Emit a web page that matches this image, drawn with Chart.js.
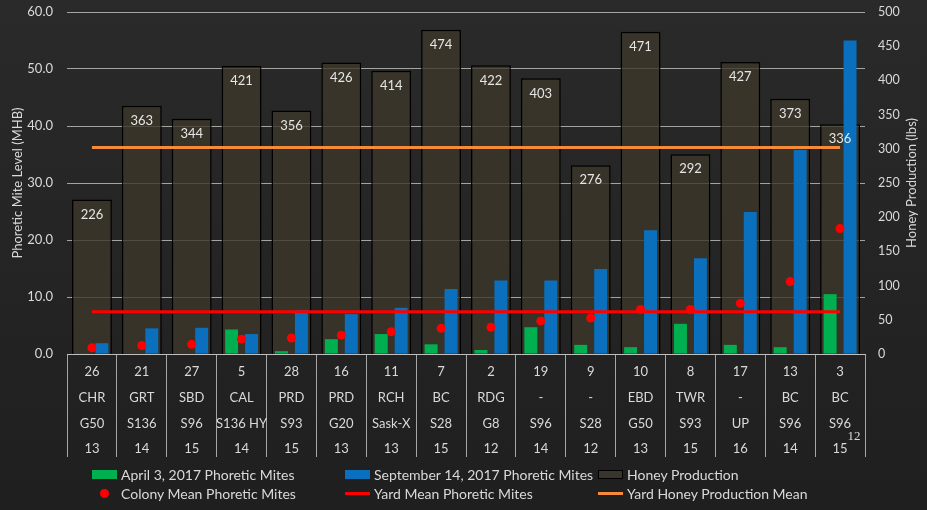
<!DOCTYPE html>
<html>
<head>
<meta charset="utf-8">
<script src="https://cdn.jsdelivr.net/npm/chart.js@4.4.1/dist/chart.umd.min.js"></script>
<style>
  html, body { margin: 0; padding: 0; }
  body {
    width: 927px; height: 510px; overflow: hidden;
    background: linear-gradient(#2a2a2a, #1f1f1f);
    font-family: Lato, sans-serif;
  }
  #wrap { position: relative; width: 927px; height: 510px; }
  #legend {
    position: absolute; left: 92px; top: 465px;
    display: grid; grid-template-columns: 253px 253px 253px;
    color: #d9d9d9; font-size: 14px;
  }
  .item { display: flex; align-items: center; height: 19px; white-space: nowrap; }
  .mark { width: 25px; height: 19px; margin-right: 4px; display: flex; align-items: center; justify-content: center; }
</style>
</head>
<body>
<div id="wrap">
  <canvas id="chart" width="927" height="510"></canvas>
  <div id="legend"></div>
</div>
<script>
const hiveIds = ['26','21','27','5','28','16','11','7','2','19','9','10','8','17','13','3'];
const yards   = ['CHR','GRT','SBD','CAL','PRD','PRD','RCH','BC','RDG','-','-','EBD','TWR','-','BC','BC'];
const queens  = ['G50','S136','S96','S136 HY','S93','G20','Sask-X','S28','G8','S96','S28','G50','S93','UP','S96','S96'];
const frames  = ['13','14','15','14','15','13','13','15','12','14','12','13','15','16','14','15'];

const aprilMites = [0.1, 0, 0, 4.3, 0.5, 2.6, 3.5, 1.7, 0.7, 4.7, 1.6, 1.2, 5.3, 1.6, 1.2, 10.5];
const septMites  = [1.9, 4.5, 4.6, 3.5, 7.7, 7.0, 8.1, 11.4, 12.9, 12.9, 14.9, 21.7, 16.8, 24.9, 35.8, 55.0];
const colonyMean = [1.1, 1.5, 1.7, 2.6, 2.8, 3.3, 3.9, 4.5, 4.7, 5.8, 6.3, 7.8, 7.8, 8.9, 12.7, 22.0];
const honey      = [226, 363, 344, 421, 356, 426, 414, 474, 422, 403, 276, 471, 292, 427, 373, 336];
const yardMiteMean  = [7.4, 7.4, 7.4, 7.4, 7.4, 7.4, 7.4, 7.4, 7.4, 7.4, 7.4, 7.4, 7.4, 7.4, 7.4, 7.4];
const yardHoneyMean = [302, 302, 302, 302, 302, 302, 302, 302, 302, 302, 302, 302, 302, 302, 302, 302];

const FONT = 'Lato, "Open Sans", sans-serif';
const TEXT = '#d9d9d9';
const GRID = 'rgba(205,205,200,0.75)';
const GREEN = '#00b050';
const BLUE = '#0a70bd';
const RED = '#ff0000';
const ORANGE = '#f38b3a';
const HONEY_FILL = 'rgba(60,55,42,0.8)';

function vText(ctx, text, x, y) {
  ctx.save();
  ctx.translate(x, y);
  ctx.rotate(-Math.PI / 2);
  ctx.fillText(text, 0, 0);
  ctx.restore();
}

const annotations = {
  id: 'annotations',
  afterDatasetsDraw(chart) {
    const { ctx, chartArea, scales } = chart;
    const meta = chart.getDatasetMeta(2);
    ctx.save();
    ctx.fillStyle = '#e6e6e6';
    ctx.font = '13px ' + FONT;
    ctx.textAlign = 'center';
    ctx.textBaseline = 'middle';
    meta.data.forEach((bar, i) => ctx.fillText(honey[i], bar.x, bar.y + 15));

    ctx.fillStyle = TEXT;
    const cy = (chartArea.top + chartArea.bottom) / 2;
    vText(ctx, 'Phoretic Mite Level (MHB)', scales.y.left + 18, cy);
    vText(ctx, 'Honey Production (lbs)', scales.y2.right - 15, cy);

    const lastX = scales.x.getPixelForValue(hiveIds.length - 1);
    ctx.font = '13px "Liberation Serif", serif';
    ctx.fillText('12', lastX + 14, scales.x.top + 83);
    ctx.restore();
  }
};

const chart = new Chart(document.getElementById('chart'), {
  type: 'bar',
  data: {
    labels: hiveIds.map((id, i) => [id, yards[i], queens[i], frames[i]]),
    datasets: [
      { label: 'April 3, 2017 Phoretic Mites', data: aprilMites, backgroundColor: GREEN,
        categoryPercentage: 0.8, barPercentage: 0.65, order: 3 },
      { label: 'September 14, 2017 Phoretic Mites', data: septMites, backgroundColor: BLUE,
        categoryPercentage: 0.8, barPercentage: 0.65, order: 3 },
      { label: 'Honey Production', data: honey, yAxisID: 'y2', grouped: false,
        backgroundColor: HONEY_FILL, borderColor: '#000', borderWidth: 1.5,
        categoryPercentage: 1, barPercentage: 0.8, order: 4 },
      { type: 'line', label: 'Colony Mean Phoretic Mites', data: colonyMean, showLine: false,
        pointRadius: 4.5, pointBackgroundColor: RED, pointBorderWidth: 0, backgroundColor: RED, order: 1 },
      { type: 'line', label: 'Yard Mean Phoretic Mites', data: yardMiteMean,
        borderColor: RED, borderWidth: 3, pointRadius: 0, order: 2 },
      { type: 'line', label: 'Yard Honey Production Mean', data: yardHoneyMean, yAxisID: 'y2',
        borderColor: ORANGE, borderWidth: 3, pointRadius: 0, order: 2 },
    ]
  },
  options: {
    responsive: false,
    animation: false,
    layout: { padding: { top: 12, bottom: 53, left: 0, right: 0 } },
    plugins: { legend: { display: false }, tooltip: { enabled: false } },
    scales: {
      x: {
        offset: true,
        grid: { offset: true, drawOnChartArea: false, tickLength: 103, color: '#a6a6a6' },
        border: { display: true, color: '#bfbfbf' },
        ticks: { color: TEXT, font: { family: FONT, size: 13, lineHeight: 1.98 },
                 padding: -98, maxRotation: 0, autoSkip: false },
        afterFit: s => { s.height = 103; }
      },
      y: {
        position: 'left', min: 0, max: 60,
        ticks: { stepSize: 10, padding: 2, color: TEXT, font: { family: FONT, size: 13 },
                 callback: v => v.toFixed(1) },
        grid: { color: GRID, drawTicks: true, tickLength: 12, tickColor: 'transparent' },
        border: { display: false },
        afterFit: s => { s.width = 67; }
      },
      y2: {
        position: 'right', min: 0, max: 500,
        ticks: { stepSize: 50, padding: 2, color: TEXT, font: { family: FONT, size: 12.5 } },
        grid: { display: false, drawTicks: true, tickLength: 11 },
        border: { display: false },
        afterFit: s => { s.width = 62; }
      }
    }
  },
  plugins: [annotations]
});

const legend = document.getElementById('legend');
chart.data.datasets.forEach(ds => {
  const item = document.createElement('div');
  item.className = 'item';
  const mark = document.createElement('span');
  mark.className = 'mark';
  const sw = document.createElement('span');
  if (ds.type !== 'line') {
    sw.style.cssText = `width:25px;height:9px;box-sizing:border-box;background:${ds.backgroundColor};` +
      (ds.borderWidth ? 'border:1.5px solid #000;background:#39352c;' : '');
  } else if (ds.showLine === false) {
    sw.style.cssText = `width:9px;height:9px;border-radius:50%;background:${ds.pointBackgroundColor};`;
  } else {
    sw.style.cssText = `width:26px;height:3px;background:${ds.borderColor};`;
  }
  mark.appendChild(sw);
  item.appendChild(mark);
  item.appendChild(document.createTextNode(ds.label));
  legend.appendChild(item);
});
</script>
</body>
</html>
